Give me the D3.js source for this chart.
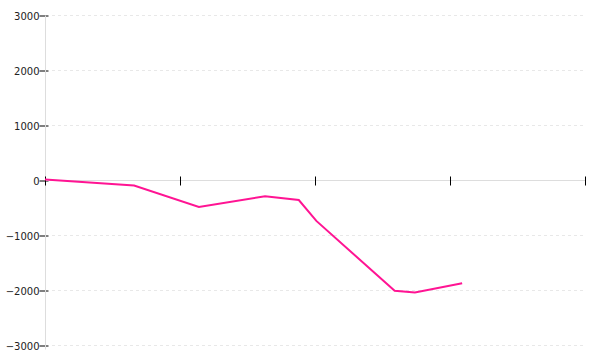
<!DOCTYPE html>
<html>
<head>
<meta charset="utf-8">
<script src="https://cdn.jsdelivr.net/npm/d3@7"></script>
<style>
  body { margin: 0; background: #fff; }
  text { font-family: "DejaVu Sans", Verdana, sans-serif; font-size: 10px; fill: #222; }
</style>
</head>
<body>
<script>
// x positions of the points (tick every 10 units, no labels)
var xValues = [0, 6.6, 11.4, 16.3, 18.8, 20.1, 25.9, 27.4, 30.9];
// y values of the series
var yValues = [20, -90, -480, -285, -355, -735, -2005, -2035, -1870];
var xTicks = [0, 10, 20, 30, 40];
var yTicks = [3000, 2000, 1000, 0, -1000, -2000, -3000];

var WIDTH = 600, HEIGHT = 360;

var svg = d3.select("body").append("svg")
    .attr("width", WIDTH)
    .attr("height", HEIGHT);

var x = d3.scaleLinear().domain([0, 40]).range([45, 585]);
var y = d3.scaleLinear().domain([-3000, 3000]).range([345.5, 15.5]);

// dotted gridlines
svg.append("g").selectAll("line")
    .data(yTicks.filter(function(d){ return d !== 0; }))
  .enter().append("line")
    .attr("x1", 52).attr("x2", 585)
    .attr("y1", function(d){ return y(d); })
    .attr("y2", function(d){ return y(d); })
    .style("stroke", "#e8e8e8")
    .style("stroke-dasharray", "3,3");

// y axis
var yAxis = d3.axisLeft(y).tickValues(yTicks).tickSize(6).tickPadding(0)
    .tickFormat(function(d){ return d3.format("")(d).replace("-", "\u2212"); });
var gy = svg.append("g").attr("transform", "translate(45.5,0)").call(yAxis);
gy.select(".domain").remove();
gy.selectAll(".tick line").attr("x1", -6).attr("x2", 3).style("stroke", "#000");
gy.selectAll(".tick text").attr("x", -6).attr("dy", "0.35em");
svg.append("line")
    .attr("x1", 45.5).attr("x2", 45.5)
    .attr("y1", y(3000)).attr("y2", y(-3000) + 4)
    .style("stroke", "#ddd");

// x axis on zero line
svg.append("line")
    .attr("x1", 45).attr("x2", 585)
    .attr("y1", y(0)).attr("y2", y(0))
    .style("stroke", "#ddd");
svg.append("g").selectAll("line")
    .data(xTicks)
  .enter().append("line")
    .attr("x1", function(d){ return Math.round(x(d)) + 0.5; })
    .attr("x2", function(d){ return Math.round(x(d)) + 0.5; })
    .attr("y1", y(0) - 4).attr("y2", y(0) + 5)
    .style("stroke", "#000");

// the series
var line = d3.line()
    .x(function(d){ return x(d[0]); })
    .y(function(d){ return y(d[1]); });

svg.append("path")
    .datum(d3.zip(xValues, yValues))
    .attr("d", line)
    .style("fill", "none")
    .style("stroke", "#ff1493")
    .style("stroke-width", 2);
</script>
</body>
</html>
